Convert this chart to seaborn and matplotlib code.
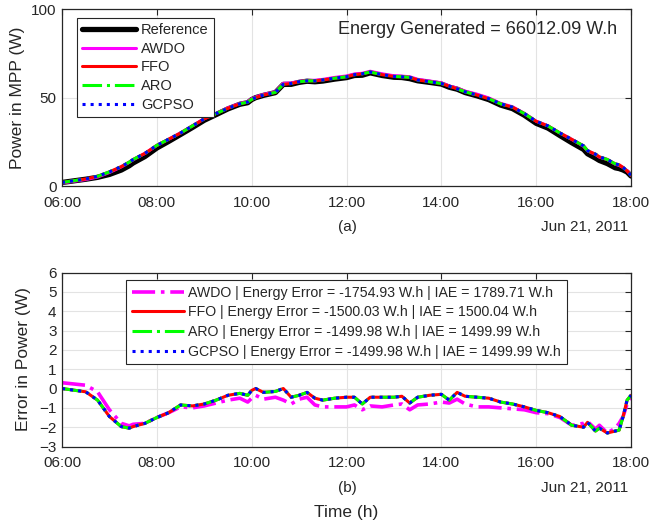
import numpy as np
import pandas as pd
import matplotlib
matplotlib.use("Agg")
import matplotlib.pyplot as plt
import seaborn as sns

# ---------------- data ----------------
time_h = [6.0, 6.5, 6.75, 7.0, 7.25, 7.417, 7.5, 7.75, 8.0, 8.25, 8.5, 8.75, 9.0, 9.25,
          9.5, 9.75, 9.917, 10.0, 10.083, 10.25, 10.5, 10.667, 10.833, 11.0, 11.167,
          11.333, 11.5, 11.75, 12.0, 12.167, 12.333, 12.5, 12.75, 13.0, 13.167, 13.333,
          13.5, 13.75, 14.0, 14.167, 14.333, 14.5, 14.75, 15.0, 15.25, 15.5, 15.75, 16.0,
          16.25, 16.5, 16.75, 17.0, 17.083, 17.25, 17.333, 17.5, 17.667, 17.75, 17.833,
          17.917, 18.0]

# power delivered by the trackers (W)
tracked_power = [2, 4, 5.5, 8, 11, 13.5, 15, 18.5, 23, 26.5, 30, 34, 38, 41,
                 44, 46.5, 47.5, 49, 50, 51.5, 53, 57.5, 58, 59, 59.5,
                 59.5, 60, 61, 61.8, 63, 63.5, 64.5, 63, 62, 61.8, 61.5,
                 60, 59, 58, 56.5, 55, 53.3, 51.5, 49.4, 46.5, 44.6, 41, 36.6,
                 34, 30, 26.4, 22.7, 20, 18, 16.5, 15, 12.5, 12, 10.5,
                 8.5, 6]

# error in power (W) = reference - tracker
err_main = [0.0, -0.17, -0.6, -1.45, -1.97, -2.05, -1.97, -1.8, -1.5, -1.25, -0.85, -0.9, -0.8, -0.6,
            -0.35, -0.25, -0.35, -0.1, 0.0, -0.2, -0.15, 0.0, -0.45, -0.35, -0.2,
            -0.5, -0.6, -0.5, -0.45, -0.45, -0.8, -0.45, -0.45, -0.45, -0.4, -0.75,
            -0.45, -0.35, -0.3, -0.6, -0.2, -0.4, -0.45, -0.5, -0.7, -0.8, -0.95, -1.13,
            -1.25, -1.45, -1.9, -2.0, -1.75, -2.2, -2.05, -2.3, -2.2, -2.15, -1.45,
            -0.6, -0.35]
err_awdo = [0.3, 0.17, -0.17, -1.1, -1.8, -1.93, -1.85, -1.8, -1.5, -1.25, -0.95, -1.0, -0.9, -0.75,
            -0.6, -0.5, -0.7, -0.5, -0.35, -0.55, -0.45, -0.6, -0.8, -0.55, -0.45,
            -0.85, -0.95, -0.95, -0.95, -0.85, -1.1, -0.9, -0.95, -0.85, -0.8, -1.1,
            -0.85, -0.8, -0.7, -0.75, -0.55, -0.8, -0.95, -0.95, -1.0, -1.05, -1.1, -1.25,
            -1.3, -1.5, -1.9, -1.8, -1.7, -2.1, -1.9, -2.3, -2.05, -1.8, -1.45,
            -0.8, -0.4]

xtick_pos = [6, 8, 10, 12, 14, 16, 18]
xtick_labels = ["06:00", "08:00", "10:00", "12:00", "14:00", "16:00", "18:00"]
date_label = "Jun 21, 2011"
energy_text = "Energy Generated = 66012.09 W.h"
top_names = ["Reference", "AWDO", "FFO", "ARO", "GCPSO"]
bottom_labels = [
    "AWDO | Energy Error = -1754.93 W.h | IAE = 1789.71 W.h",
    "FFO | Energy Error = -1500.03 W.h | IAE = 1500.04 W.h",
    "ARO | Energy Error = -1499.98 W.h | IAE = 1499.99 W.h",
    "GCPSO | Energy Error = -1499.98 W.h | IAE = 1499.99 W.h",
]

# ---------------- derived table ----------------
t = np.array(time_h)
ref = np.array(tracked_power) + np.array(err_main)
df = pd.DataFrame({
    "time": t,
    "Reference": ref,
    "AWDO": ref - np.array(err_awdo),
    "FFO": ref - np.array(err_main),
    "ARO": ref - np.array(err_main),
    "GCPSO": ref - np.array(err_main),
    "err_AWDO": err_awdo,
    "err_FFO": err_main,
    "err_ARO": err_main,
    "err_GCPSO": err_main,
})

# ---------------- style ----------------
sns.set_style("white")
plt.rcParams["font.family"] = ["Liberation Sans", "DejaVu Sans"]
TXT = "#262626"
plt.rcParams.update({
    "axes.edgecolor": TXT, "axes.linewidth": 0.9,
    "xtick.color": TXT, "ytick.color": TXT,
    "xtick.labelcolor": TXT, "ytick.labelcolor": TXT,
    "text.color": TXT, "axes.labelcolor": TXT,
})

fig = plt.figure(figsize=(6.5, 5.2), dpi=100)
ax1 = fig.add_axes([0.0954, 0.6423, 0.8754, 0.3398])
ax2 = fig.add_axes([0.0954, 0.1413, 0.8754, 0.3346])

top_styles = {
    "Reference": dict(color="black", lw=3.8, ls="-"),
    "AWDO": dict(color="#ff00ff", lw=2.2, ls="-"),
    "FFO": dict(color="#ff0000", lw=2.2, ls="-"),
    "ARO": dict(color="#00ff00", lw=2.2, ls="-."),
    "GCPSO": dict(color="#0000ff", lw=2.2, ls=":"),
}
for name in top_names:
    st = top_styles[name]
    sns.lineplot(data=df, x="time", y=name, ax=ax1, color=st["color"],
                 linewidth=st["lw"], linestyle=st["ls"], label=name)

bottom_styles = [
    ("err_AWDO", dict(color="#ff00ff", lw=2.6, ls="-.")),
    ("err_FFO", dict(color="#ff0000", lw=2.2, ls="-")),
    ("err_ARO", dict(color="#00ff00", lw=2.2, ls="-.")),
    ("err_GCPSO", dict(color="#0000ff", lw=2.2, ls=":")),
]
for (col, st), lab in zip(bottom_styles, bottom_labels):
    sns.lineplot(data=df, x="time", y=col, ax=ax2, color=st["color"],
                 linewidth=st["lw"], linestyle=st["ls"], label=lab)

for ax in (ax1, ax2):
    ax.set_xlim(6, 18)
    ax.set_xticks(xtick_pos)
    ax.set_xticklabels(xtick_labels, fontsize=11)
    ax.tick_params(direction="in", top=True, right=True, length=4, width=0.8,
                   labelsize=11)
    ax.tick_params(axis="x", pad=7)
    ax.tick_params(axis="y", pad=4)
    ax.grid(True, color="#e3e3e3", lw=0.8)
    ax.set_axisbelow(True)
    ax.set_xlabel("")
    for s in ax.spines.values():
        s.set_visible(True)

ax1.set_ylim(0, 100)
ax1.set_yticks([0, 50, 100])
ax1.set_ylabel("Power in MPP (W)", fontsize=12.5, labelpad=4)
ax2.set_ylim(-3, 6)
ax2.set_yticks(list(range(-3, 7)))
ax2.set_ylabel("Error in Power (W)", fontsize=12.5, labelpad=6)
ax2.set_xlabel("Time (h)", fontsize=12.5, labelpad=25)

leg1 = ax1.legend(loc="upper left", bbox_to_anchor=(0.026, 0.951), borderaxespad=0,
                  fontsize=10.5, frameon=True, fancybox=False, framealpha=1,
                  edgecolor=TXT, handlelength=3.7, handletextpad=0.35,
                  labelspacing=0.32, borderpad=0.35)
leg1.get_frame().set_linewidth(0.8)
leg2 = ax2.legend(loc="upper center", bbox_to_anchor=(0.5, 0.957), borderaxespad=0,
                  fontsize=10.2, frameon=True, fancybox=False, framealpha=1,
                  edgecolor=TXT, handlelength=3.7, handletextpad=0.3,
                  labelspacing=0.4, borderpad=0.4)
leg2.get_frame().set_linewidth(0.8)

ax1.text(0.975, 0.888, energy_text, transform=ax1.transAxes, ha="right",
         va="center", fontsize=13)

fig.text(0.534, 1 - 227 / 520, "(a)", ha="center", va="center", fontsize=11)
fig.text(0.966, 1 - 227 / 520, date_label, ha="right", va="center", fontsize=11)
fig.text(0.534, 1 - 488 / 520, "(b)", ha="center", va="center", fontsize=11)
fig.text(0.966, 1 - 488 / 520, date_label, ha="right", va="center", fontsize=11)

fig.savefig("out.png", dpi=100, facecolor="white")
